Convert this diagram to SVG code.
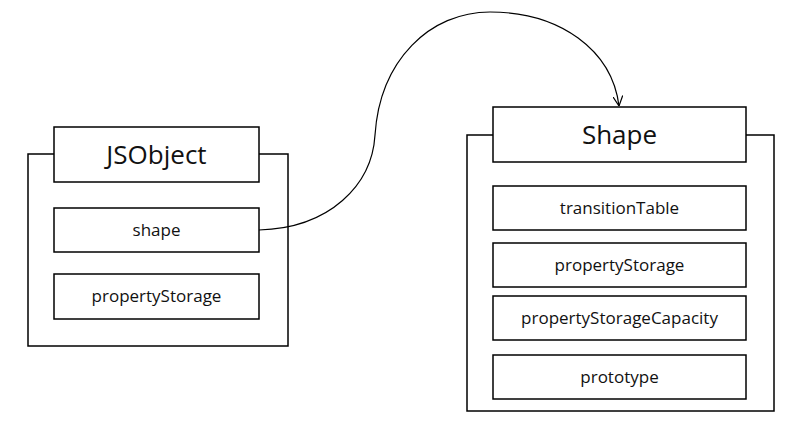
<svg xmlns="http://www.w3.org/2000/svg" width="800" height="440" viewBox="0 0 800 440">
<defs>
<style>
.box{fill:#fff;stroke:#000;stroke-width:1.5}
.outer{fill:none;stroke:#000;stroke-width:1.5}
.t{font-family:"Open Sans",sans-serif;font-size:17px;fill:#111;text-anchor:middle}
.h{font-family:"Open Sans",sans-serif;font-size:26px;fill:#111;text-anchor:middle}
.c{fill:none;stroke:#000;stroke-width:1.2}
</style>
<marker id="arr" viewBox="0 0 10 10" refX="10" refY="5" markerWidth="10" markerHeight="10" markerUnits="userSpaceOnUse" orient="auto">
<path d="M0,0 L10,5 L0,10" fill="none" stroke="#000" stroke-width="1.2"/>
</marker>
</defs>
<rect width="800" height="440" fill="#fff"/>
<g id="jsobject">
<rect class="outer" x="28" y="154" width="260" height="192"/>
<rect class="box" x="54" y="127" width="205" height="55"/>
<text class="h" x="156.5" y="164">JSObject</text>
<rect class="box" x="54" y="208" width="205" height="44"/>
<text class="t" x="156.5" y="236">shape</text>
<rect class="box" x="54" y="274" width="205" height="45"/>
<text class="t" x="156.5" y="302">propertyStorage</text>
</g>
<g id="shape">
<rect class="outer" x="467" y="135" width="307" height="276"/>
<rect class="box" x="493" y="107" width="253" height="55"/>
<text class="h" x="619.5" y="144">Shape</text>
<rect class="box" x="493" y="186" width="253" height="44"/>
<text class="t" x="619.5" y="214">transitionTable</text>
<rect class="box" x="493" y="243" width="253" height="44"/>
<text class="t" x="619.5" y="271">propertyStorage</text>
<rect class="box" x="493" y="296" width="253" height="44"/>
<text class="t" x="619.5" y="324">propertyStorageCapacity</text>
<rect class="box" x="493" y="355" width="253" height="44"/>
<text class="t" x="619.5" y="383">prototype</text>
</g>
<g id="connectors">
<path class="c" d="M259,230 C330,228 372,185 375,135 C380,60 430,12 490,12 C560,12 612,50 619,106" marker-end="url(#arr)"/>
</g>
</svg>
